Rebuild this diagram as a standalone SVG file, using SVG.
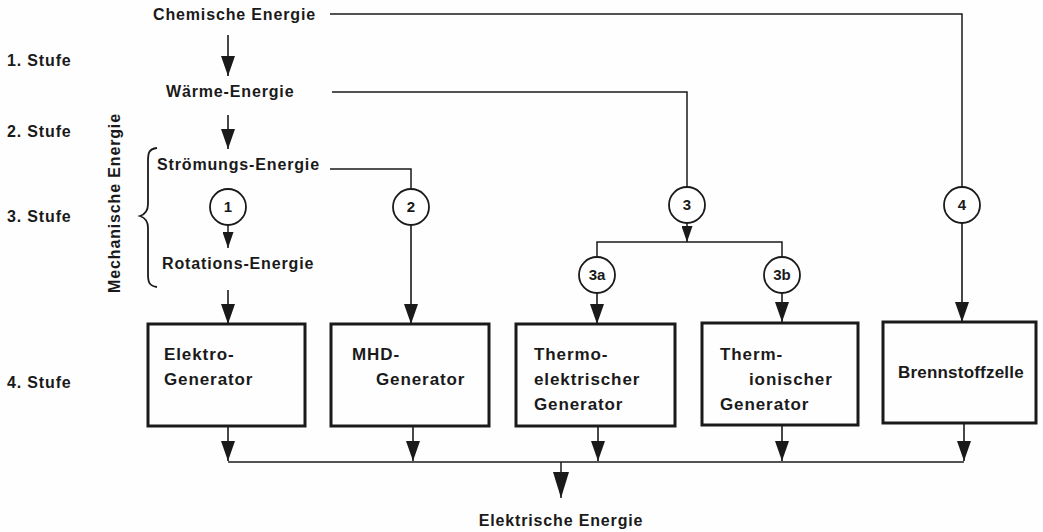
<svg xmlns="http://www.w3.org/2000/svg" width="1043" height="532" viewBox="0 0 1043 532">
<defs>
<marker id="ah" viewBox="0 0 20 14" refX="20" refY="7" markerWidth="20" markerHeight="14" markerUnits="userSpaceOnUse" orient="auto">
<path d="M0,0 L20,7 L0,14 Z" fill="#1a1a1a"/>
</marker>
<marker id="ahs" viewBox="0 0 16 11" refX="16" refY="5.5" markerWidth="16" markerHeight="11" markerUnits="userSpaceOnUse" orient="auto">
<path d="M0,0 L16,5.5 L0,11 Z" fill="#1a1a1a"/>
</marker>
<marker id="ahb" viewBox="0 0 26 16" refX="26" refY="8" markerWidth="26" markerHeight="16" markerUnits="userSpaceOnUse" orient="auto">
<path d="M0,0 L26,8 L0,16 Z" fill="#1a1a1a"/>
</marker>
</defs>
<style>
text{font-family:"Liberation Sans",Arial,sans-serif;font-weight:bold;fill:#1a1a1a}
.lbl{font-size:16px;letter-spacing:0.85px}
.box text{font-size:17px;letter-spacing:0.9px;font-weight:bold}
.box rect{fill:none;stroke:#1a1a1a;stroke-width:3}
.c circle{fill:#fff;stroke:#1a1a1a;stroke-width:1.8}
.c text{font-size:15px;text-anchor:middle}
.ln{fill:none;stroke:#1a1a1a;stroke-width:1.5}
.ar{fill:none;stroke:#1a1a1a;stroke-width:1.6;marker-end:url(#ah)}
</style>
<rect width="1043" height="532" fill="#fefefe"/>

<g id="labels">
<text class="lbl" x="7" y="66">1. Stufe</text>
<text class="lbl" x="7" y="137">2. Stufe</text>
<text class="lbl" x="7" y="222">3. Stufe</text>
<text class="lbl" x="7" y="388">4. Stufe</text>
<text class="lbl" transform="translate(120,203) rotate(-90)" text-anchor="middle">Mechanische Energie</text>
<path d="M157,148 C148,149 148,154 148,162 L148,204 C148,210 146,214 140,216 C146,218 148,222 148,228 L148,274 C148,282 149,286 157,287" fill="none" stroke="#1a1a1a" stroke-width="1.8"/>
</g>

<g id="chem"><text class="lbl" x="153" y="20">Chemische Energie</text></g>
<g id="waerme"><text class="lbl" x="166" y="97">Wärme-Energie</text></g>
<g id="stroemung"><text class="lbl" x="157" y="170">Strömungs-Energie</text></g>
<g id="rotation"><text class="lbl" x="162" y="269">Rotations-Energie</text></g>
<g id="elektrisch"><text class="lbl" x="561" y="526" text-anchor="middle">Elektrische Energie</text></g>

<g id="connectors">
<line class="ar" x1="228" y1="35" x2="228" y2="76"/>
<line class="ar" x1="228" y1="115" x2="228" y2="149"/>
<line class="ln" x1="228" y1="225" x2="228" y2="248" marker-end="url(#ahs)"/>
<line class="ar" x1="228" y1="290" x2="228" y2="324"/>
<polyline class="ln" points="330,14 962,14 962,187"/>
<polyline class="ln" points="332,92 687,92 687,187"/>
<polyline class="ln" points="330,169 411,169 411,189"/>
<line class="ar" x1="411" y1="225" x2="411" y2="324"/>
<line class="ln" x1="687" y1="223" x2="687" y2="242" marker-end="url(#ahs)"/>
<polyline class="ln" points="597,257 597,242 782,242 782,257"/>
<line class="ar" x1="597" y1="293" x2="597" y2="324"/>
<line class="ar" x1="782" y1="293" x2="782" y2="322"/>
<line class="ar" x1="962" y1="223" x2="962" y2="322"/>
<line class="ar" x1="228" y1="426" x2="228" y2="461"/>
<line class="ar" x1="413" y1="426" x2="413" y2="461"/>
<line class="ar" x1="598" y1="426" x2="598" y2="461"/>
<line class="ar" x1="782" y1="426" x2="782" y2="461"/>
<line class="ar" x1="964" y1="424" x2="964" y2="461"/>
<line class="ln" x1="228" y1="462" x2="964" y2="462"/>
<line class="ln" x1="561" y1="462" x2="561" y2="498" marker-end="url(#ahb)"/>
</g>

<g id="c1" class="c"><circle cx="228" cy="207" r="18"/><text x="228" y="212">1</text></g>
<g id="c2" class="c"><circle cx="411" cy="207" r="18"/><text x="411" y="212">2</text></g>
<g id="c3" class="c"><circle cx="687" cy="205" r="18"/><text x="687" y="210">3</text></g>
<g id="c3a" class="c"><circle cx="597" cy="275" r="18"/><text x="597" y="280">3a</text></g>
<g id="c3b" class="c"><circle cx="782" cy="275" r="18"/><text x="782" y="280">3b</text></g>
<g id="c4" class="c"><circle cx="962" cy="205" r="18"/><text x="962" y="210">4</text></g>

<g id="elektrogen" class="box"><rect x="148" y="324" width="157" height="102"/><text x="164" y="360">Elektro-</text><text x="164" y="385">Generator</text></g>
<g id="mhd" class="box"><rect x="331" y="324" width="158" height="102"/><text x="352" y="360">MHD-</text><text x="376" y="385">Generator</text></g>
<g id="thermoel" class="box"><rect x="516" y="324" width="159" height="102"/><text x="534" y="360">Thermo-</text><text x="534" y="385">elektrischer</text><text x="534" y="410">Generator</text></g>
<g id="thermion" class="box"><rect x="702" y="323" width="156" height="102"/><text x="720" y="360">Therm-</text><text x="749" y="385">ionischer</text><text x="720" y="410">Generator</text></g>
<g id="brennstoff" class="box"><rect x="883" y="322" width="153" height="101"/><text x="898" y="378" style="letter-spacing:0.2px">Brennstoffzelle</text></g>
</svg>
